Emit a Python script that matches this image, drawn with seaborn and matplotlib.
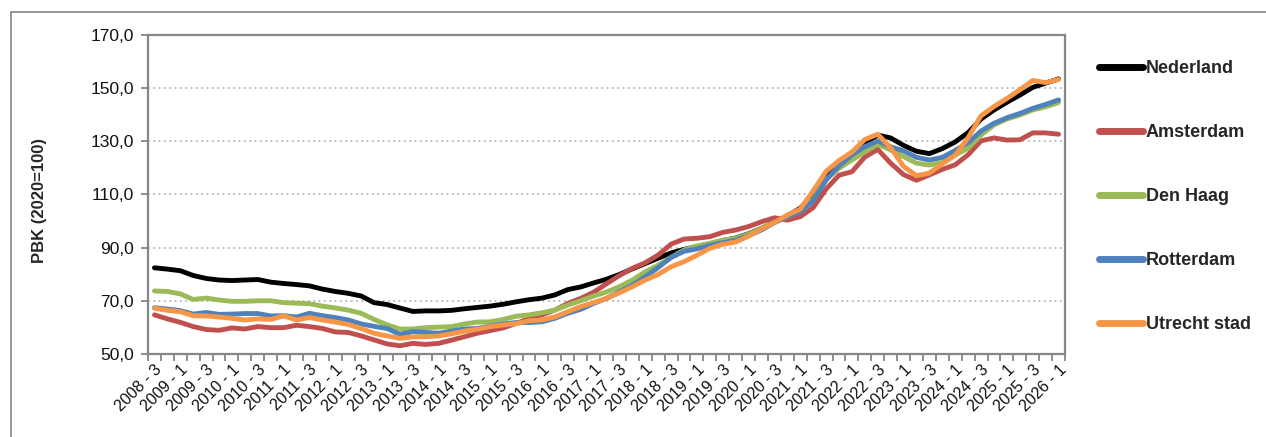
import matplotlib
matplotlib.use("Agg")
import matplotlib.pyplot as plt
import numpy as np
import pandas as pd
import seaborn as sns
from matplotlib.patches import Rectangle
from matplotlib.ticker import FixedLocator

# ---------------- data ----------------
quarters = [f"{y} - {q}" for y in range(2008, 2027) for q in range(1, 5)][2:73]

nederland = [82.4, 81.9, 81.3, 79.5, 78.4, 77.8, 77.6, 77.8, 78.0, 77.0,
             76.5, 76.1, 75.6, 74.4, 73.5, 72.8, 71.8, 69.3, 68.6, 67.3,
             66.0, 66.2, 66.2, 66.4, 67.0, 67.5, 68.0, 68.7, 69.6, 70.4,
             71.0, 72.2, 74.2, 75.2, 76.7, 78.1, 79.9, 82.0, 84.0, 86.0,
             88.0, 89.3, 90.4, 91.4, 92.6, 93.6, 95.2, 97.2, 99.5, 101.9,
             104.8, 109.5, 117.0, 121.7, 125.3, 129.0, 132.3, 131.2, 128.4, 126.2,
             125.3, 127.2, 129.7, 133.2, 138.3, 141.7, 144.6, 147.3, 150.2, 151.8,
             153.4]

amsterdam = [64.7, 63.2, 61.9, 60.3, 59.2, 58.9, 59.8, 59.4, 60.3, 59.9,
             59.9, 60.8, 60.3, 59.6, 58.3, 58.1, 56.8, 55.3, 53.8, 53.1,
             54.0, 53.6, 54.0, 55.2, 56.5, 57.8, 58.8, 59.8, 61.5, 63.3,
             64.7, 66.5, 69.0, 70.9, 73.2, 76.4, 79.5, 82.2, 84.3, 87.2,
             91.3, 93.2, 93.5, 94.1, 95.7, 96.6, 97.9, 99.7, 101.2, 100.3,
             101.6, 105.0, 112.0, 117.2, 118.5, 124.0, 126.9, 121.7, 117.4, 115.3,
             117.3, 119.4, 121.1, 124.9, 130.1, 131.2, 130.4, 130.5, 133.1, 133.1,
             132.6]

den_haag = [73.7, 73.5, 72.6, 70.5, 71.0, 70.3, 69.8, 69.8, 70.0, 70.0,
            69.3, 69.1, 68.9, 68.0, 67.3, 66.5, 65.3, 63.0, 61.0, 59.4,
            59.4, 59.9, 60.1, 60.3, 61.3, 62.0, 62.1, 63.0, 64.2, 64.7,
            65.5, 66.5, 68.4, 70.0, 71.8, 73.3, 75.3, 77.8, 80.9, 83.4,
            86.3, 89.1, 90.6, 91.6, 92.8, 93.5, 95.1, 97.2, 99.5, 101.6,
            103.9, 107.9, 115.6, 119.8, 122.9, 126.0, 128.8, 126.7, 124.2, 121.7,
            121.0, 122.0, 124.8, 127.3, 132.3, 136.1, 138.3, 139.8, 141.7, 142.9,
            144.5]

rotterdam = [67.4, 66.9, 66.3, 65.0, 65.6, 64.9, 65.0, 65.2, 65.2, 64.3,
             64.4, 63.9, 65.3, 64.4, 63.7, 62.8, 61.3, 60.4, 59.6, 57.4,
             58.4, 58.1, 57.8, 58.6, 59.4, 59.6, 60.5, 61.3, 61.8, 61.8,
             62.1, 63.4, 65.3, 66.8, 69.0, 70.9, 73.4, 75.9, 79.0, 82.5,
             86.3, 88.6, 89.5, 90.8, 91.8, 92.8, 94.5, 96.6, 99.4, 101.6,
             103.5, 107.5, 115.4, 120.7, 124.8, 127.9, 130.1, 127.9, 126.3, 123.9,
             122.9, 123.9, 126.5, 129.4, 133.8, 136.7, 138.8, 140.4, 142.3, 143.8,
             145.5]

utrecht = [67.2, 66.4, 65.9, 64.4, 64.3, 63.9, 63.4, 62.8, 63.2, 63.0,
           64.3, 62.8, 63.7, 62.8, 62.0, 61.1, 59.6, 57.8, 56.8, 55.9,
           56.4, 56.5, 56.8, 57.6, 58.6, 59.3, 60.3, 60.9, 61.4, 62.5,
           62.8, 63.9, 65.9, 67.8, 69.3, 70.9, 73.0, 75.3, 77.8, 79.9,
           82.8, 84.7, 87.1, 89.7, 91.2, 92.1, 94.3, 97.0, 99.4, 102.2,
           104.5, 111.3, 118.6, 122.7, 125.9, 130.6, 132.6, 127.5, 120.5, 117.0,
           118.0, 121.5, 124.7, 131.3, 139.5, 143.0, 146.0, 149.3, 152.8, 152.0,
           153.2]

series_names = ["Nederland", "Amsterdam", "Den Haag", "Rotterdam", "Utrecht stad"]
series_values = [nederland, amsterdam, den_haag, rotterdam, utrecht]
series_colors = ["#000000", "#C0504D", "#9BBB59", "#4F81BD", "#F79646"]

ytick_values = [50, 70, 90, 110, 130, 150, 170]
ytick_labels = ["50,0", "70,0", "90,0", "110,0", "130,0", "150,0", "170,0"]
y_label = "PBK (2020=100)"

# ---------------- frame ----------------
rows = []
for name, vals in zip(series_names, series_values):
    for i, v in enumerate(vals):
        rows.append({"kwartaal": quarters[i], "pos": i, "regio": name, "pbk": v})
df = pd.DataFrame(rows)

sns.set_theme(style="white")
plt.rcParams["font.family"] = ["Liberation Sans", "DejaVu Sans"]

W, H = 1266, 437
fig = plt.figure(figsize=(W / 100, H / 100), dpi=100)
fig.patch.set_facecolor("white")
ax = fig.add_axes([148 / W, 1 - 354 / H, (1065 - 148) / W, (354 - 34.7) / H])

sns.lineplot(data=df, x="pos", y="pbk", hue="regio", hue_order=series_names,
             palette=dict(zip(series_names, series_colors)), linewidth=3.5,
             ax=ax, sort=False, legend=True)
for ln in ax.lines:
    ln.set_solid_capstyle("round")
    ln.set_solid_joinstyle("round")

ax.set_xlim(-0.5, len(quarters) - 0.5)
ax.set_ylim(50, 170)

spine_col = "#878787"
for s in ax.spines.values():
    s.set_color(spine_col)
    s.set_linewidth(1.6)

ax.set_yticks(ytick_values)
ax.set_yticklabels(ytick_labels, fontsize=12.5, color="#111111")
ax.tick_params(axis="y", which="major", length=5, width=1.3, color=spine_col,
               direction="out", left=True, pad=5)

label_pos = list(range(0, len(quarters), 2))
ax.xaxis.set_major_locator(FixedLocator(label_pos))
ax.set_xticklabels([quarters[i] for i in label_pos], rotation=45, ha="right",
                   va="top", rotation_mode="anchor", fontsize=11.5, color="#111111")
ax.xaxis.set_minor_locator(FixedLocator(np.arange(-0.5, len(quarters), 1.0)))
ax.tick_params(axis="x", which="major", length=0, pad=6)
ax.tick_params(axis="x", which="minor", length=5, width=1.3, color=spine_col,
               direction="out", bottom=True)

ax.yaxis.grid(True, linestyle=(0, (1, 2.2)), color="#A8A8A8", linewidth=1.2)
ax.xaxis.grid(False)
ax.set_axisbelow(True)

ax.set_xlabel("")
ax.set_ylabel(y_label, fontsize=12, fontweight="bold")
ax.yaxis.set_label_coords((47 - 148) / (1065 - 148), 0.48)

handles, labels = ax.get_legend_handles_labels()
ax.get_legend().remove()
for h in handles:
    h.set_linewidth(5)
fig.legend(handles, labels, loc="upper left",
           bbox_to_anchor=(1092 / W, 1 - 53 / H), frameon=False,
           prop=dict(family="Liberation Sans", weight="bold", size=13),
           handlelength=2.45, handletextpad=0.12, labelspacing=2.6,
           borderaxespad=0)

# outer chart-area border (extends beyond image on right/bottom)
fig.add_artist(Rectangle((11 / W, -0.2), 1.5, 1 - 12 / H + 0.2,
                         transform=fig.transFigure, fill=False,
                         edgecolor="#8C8C8C", linewidth=1.3))

fig.savefig("out.png", dpi=100, facecolor="white")
